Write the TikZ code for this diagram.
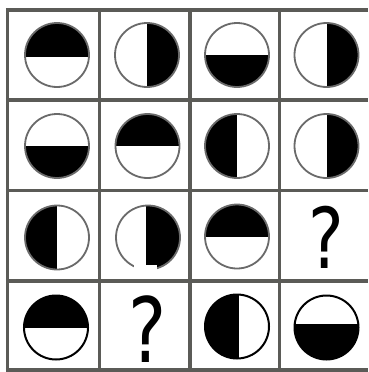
\documentclass[tikz,border=0pt]{standalone}
\usepackage{fontspec}
\newfontfamily\qfont{DejaVu Sans}
\definecolor{gridc}{HTML}{5B5B57}
\definecolor{ringc}{HTML}{6A6A6A}
\tikzset{
  ring/.style={draw=ringc, line width=1.8pt},
  blk/.style={draw=black, line width=2pt},
  gridline/.style={draw=gridc, line width=3.5pt},
  qmark/.style={inner sep=0pt, font=\qfont\fontsize{#1}{#1}\selectfont, xscale=0.8, transform shape}
}
\newcommand\hdisc[5]{%
  \begin{scope}[shift={(#1,#2)}]
    \fill[white] (0,0) circle[radius=32pt];
    \begin{scope}[rotate=#3]
      \clip (0,0) circle[radius=32pt];
      \fill[black] (-40,-40) rectangle (40,#4);
    \end{scope}
    \draw[#5] (0,0) circle[radius=32pt];
  \end{scope}}
\begin{document}
\begin{tikzpicture}[x=1pt,y=-1pt]
\useasboundingbox[fill=white] (0,0) rectangle (368,372);
% grid
\foreach \yy in {10,100,190.5,281,370} \draw[gridline] (5.75,\yy) -- (368,\yy);
\foreach \xx in {7.5,99.5,190,279.5} \draw[gridline] (\xx,8.25) -- (\xx,371.75);
% row 1
\hdisc{57}{55}{0}{1.5}{ring}
\hdisc{147}{55}{-90}{0}{ring}
\hdisc{237}{55}{180}{0}{ring}
\hdisc{326.5}{55}{-90}{0}{ring}
% row 2
\hdisc{57}{146}{180}{0}{ring}
\hdisc{147.5}{146}{0}{0}{ring}
\hdisc{237}{146}{90}{0}{ring}
\hdisc{326.5}{146}{-90}{0}{ring}
% row 3
\hdisc{57}{237.5}{90}{0}{ring}
\hdisc{148}{237.5}{-90}{2}{ring}
\fill[white] (134,265) rectangle (157,275);
\hdisc{237}{236.5}{0}{0}{ring}
\node[qmark=84] (q1) at (326.5,237) {?};
% row 4
\hdisc{56}{327.5}{0}{0}{blk}
\node[qmark=90] (q2) at (147.5,329.5) {?};
\hdisc{237}{326.5}{90}{2}{blk}
\hdisc{326.5}{327.5}{180}{3.5}{blk}
\end{tikzpicture}
\end{document}
